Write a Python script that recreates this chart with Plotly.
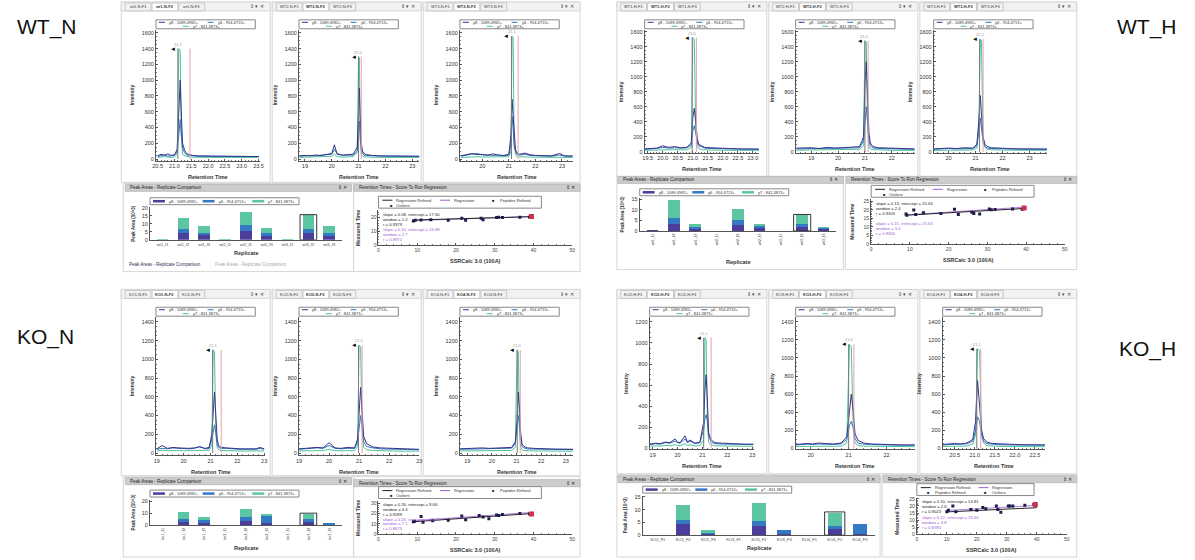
import plotly.graph_objects as go

W, H = 1195, 560
FONT = "Liberation Sans, Arial, sans-serif"

# ---------------- data ----------------
ion_names = ["y8 - 1089.4982+", "y6 - 954.4713+", "y7 - 841.3873+"]

# chromatograms (retention time, intensity of y8 / y6 / y7)
wtn1_t = [20.5, 20.6, 20.7, 20.8, 20.9, 21.0, 21.08, 21.13, 21.17, 21.2, 21.24, 21.3, 21.36, 21.45, 21.55, 21.7, 21.9, 22.1, 22.4, 22.7, 23.0, 23.3, 23.5]
wtn1_y8 = [40, 60, 45, 65, 45, 55, 120, 700, 1000, 620, 200, 110, 70, 55, 45, 40, 38, 35, 35, 33, 33, 32, 32]
wtn1_y6 = [30, 40, 55, 35, 40, 45, 90, 350, 500, 330, 140, 80, 50, 45, 40, 35, 33, 32, 30, 30, 30, 30, 30]
wtn1_y7 = [20, 25, 30, 25, 20, 25, 60, 1400, 1380, 300, 60, 40, 30, 25, 22, 20, 20, 20, 20, 20, 20, 20, 20]

wtn2_t = [18.8, 19.0, 19.2, 19.4, 19.6, 19.8, 20.0, 20.1, 20.2, 20.4, 20.6, 20.8, 20.95, 21.0, 21.03, 21.06, 21.1, 21.15, 21.2, 21.3, 21.5, 21.8, 22.1, 22.5, 22.9, 23.3]
wtn2_y8 = [40, 45, 40, 50, 45, 60, 70, 180, 60, 50, 55, 60, 150, 600, 900, 550, 200, 100, 70, 55, 45, 40, 40, 38, 35, 35]
wtn2_y6 = [35, 40, 45, 40, 50, 55, 60, 120, 70, 45, 50, 50, 100, 350, 480, 300, 120, 70, 50, 45, 40, 38, 35, 35, 33, 33]
wtn2_y7 = [20, 22, 25, 22, 25, 30, 35, 60, 30, 25, 28, 30, 80, 1300, 1280, 250, 60, 35, 28, 25, 22, 20, 20, 20, 20, 20]

wtn3_t = [19.2, 19.4, 19.6, 19.8, 20.0, 20.2, 20.4, 20.6, 20.8, 21.0, 21.08, 21.12, 21.16, 21.2, 21.25, 21.3, 21.4, 21.6, 21.8, 22.0, 22.3, 22.6, 22.9, 23.1, 23.4]
wtn3_y8 = [40, 60, 70, 55, 60, 45, 65, 50, 45, 60, 300, 760, 550, 250, 120, 80, 60, 75, 55, 45, 40, 40, 70, 40, 38]
wtn3_y6 = [35, 50, 60, 70, 50, 55, 45, 50, 40, 50, 200, 540, 400, 150, 90, 60, 50, 60, 45, 40, 38, 35, 50, 35, 35]
wtn3_y7 = [20, 25, 30, 28, 25, 25, 30, 25, 22, 30, 100, 1560, 1540, 200, 60, 35, 28, 30, 25, 22, 20, 20, 25, 20, 20]

wth1_t = [19.4, 19.6, 19.8, 20.0, 20.2, 20.4, 20.6, 20.8, 20.95, 21.0, 21.05, 21.1, 21.15, 21.2, 21.3, 21.4, 21.6, 21.9, 22.2, 22.5, 22.8, 23.0, 23.2]
wth1_y8 = [40, 45, 50, 80, 60, 70, 55, 60, 120, 450, 580, 400, 180, 100, 80, 60, 55, 45, 45, 40, 40, 38, 38]
wth1_y6 = [35, 40, 45, 60, 50, 55, 50, 55, 90, 280, 350, 250, 120, 80, 60, 50, 45, 40, 40, 38, 35, 35, 35]
wth1_y7 = [20, 22, 25, 35, 28, 30, 26, 28, 60, 1520, 1500, 300, 70, 40, 30, 26, 24, 22, 20, 20, 20, 20, 20]

wth2_t = [18.45, 18.7, 19.0, 19.3, 19.6, 19.9, 20.2, 20.5, 20.8, 20.95, 21.0, 21.05, 21.1, 21.15, 21.2, 21.3, 21.5, 21.8, 22.1, 22.4, 22.65, 22.85]
wth2_y8 = [50, 52, 55, 45, 60, 50, 55, 60, 70, 200, 900, 1200, 700, 250, 120, 70, 55, 50, 45, 45, 40, 40]
wth2_y6 = [40, 42, 45, 40, 50, 45, 50, 50, 55, 150, 450, 600, 380, 150, 80, 55, 45, 40, 40, 38, 35, 35]
wth2_y7 = [22, 24, 25, 22, 28, 25, 28, 30, 35, 80, 1480, 1460, 300, 70, 40, 30, 25, 22, 20, 20, 20, 20]

wth3_t = [19.45, 19.7, 20.0, 20.3, 20.6, 20.9, 21.05, 21.12, 21.18, 21.22, 21.28, 21.35, 21.45, 21.6, 21.9, 22.2, 22.5, 22.8, 23.1, 23.4, 23.65]
wth3_y8 = [40, 45, 50, 45, 55, 50, 100, 400, 750, 500, 200, 100, 70, 55, 45, 45, 40, 40, 40, 38, 38]
wth3_y6 = [35, 40, 45, 40, 45, 45, 80, 250, 450, 320, 130, 70, 50, 45, 40, 40, 38, 35, 35, 35, 35]
wth3_y7 = [20, 22, 25, 22, 25, 25, 50, 300, 1500, 1480, 200, 60, 35, 28, 24, 22, 20, 20, 20, 20, 20]

kon1_t = [19.0, 19.2, 19.4, 19.6, 19.8, 20.0, 20.2, 20.4, 20.6, 20.8, 20.95, 21.05, 21.1, 21.15, 21.2, 21.25, 21.3, 21.4, 21.6, 21.8, 22.1, 22.4, 22.7, 22.85, 23.0]
kon1_y8 = [45, 80, 50, 60, 55, 50, 50, 55, 65, 50, 60, 200, 450, 650, 400, 150, 80, 60, 55, 50, 45, 45, 45, 60, 45]
kon1_y6 = [40, 50, 45, 55, 50, 45, 45, 50, 70, 45, 50, 150, 250, 300, 220, 100, 60, 50, 50, 45, 40, 40, 40, 50, 40]
kon1_y7 = [22, 30, 25, 28, 26, 24, 24, 26, 32, 24, 30, 80, 1100, 1080, 200, 60, 35, 28, 25, 24, 22, 22, 22, 30, 22]

kon2_t = [19.0, 19.2, 19.4, 19.6, 19.8, 20.0, 20.2, 20.4, 20.6, 20.85, 20.95, 21.0, 21.05, 21.1, 21.15, 21.25, 21.45, 21.7, 22.0, 22.3, 22.6, 22.8, 23.0]
kon2_y8 = [45, 50, 55, 60, 55, 110, 55, 50, 60, 55, 150, 500, 700, 450, 180, 100, 65, 55, 50, 45, 45, 40, 40]
kon2_y6 = [40, 45, 50, 55, 50, 80, 50, 45, 50, 50, 120, 300, 400, 280, 120, 70, 55, 45, 40, 40, 38, 35, 35]
kon2_y7 = [22, 24, 26, 28, 26, 40, 26, 24, 28, 26, 70, 1150, 1130, 250, 60, 35, 28, 24, 22, 20, 20, 20, 20]

kon3_t = [18.7, 19.0, 19.3, 19.6, 19.9, 20.2, 20.5, 20.8, 20.95, 21.02, 21.07, 21.12, 21.17, 21.22, 21.3, 21.45, 21.7, 22.0, 22.3, 22.6, 22.9, 23.3]
kon3_y8 = [45, 50, 48, 55, 50, 52, 55, 60, 120, 350, 650, 480, 200, 100, 70, 55, 50, 45, 45, 42, 42, 40]
kon3_y6 = [40, 42, 44, 48, 45, 46, 48, 52, 100, 250, 400, 300, 140, 70, 55, 45, 42, 40, 40, 38, 38, 36]
kon3_y7 = [22, 24, 24, 26, 25, 25, 26, 28, 60, 1100, 1080, 200, 60, 35, 28, 24, 22, 22, 20, 20, 20, 20]

koh1_t = [18.9, 19.1, 19.3, 19.5, 19.7, 19.9, 20.0, 20.1, 20.3, 20.4, 20.5, 20.7, 20.9, 21.05, 21.1, 21.15, 21.2, 21.25, 21.35, 21.5, 21.8, 22.1, 22.4, 22.7, 23.05]
koh1_y8 = [40, 50, 45, 60, 55, 90, 60, 55, 120, 60, 80, 50, 60, 250, 550, 700, 450, 150, 80, 55, 50, 45, 45, 40, 40]
koh1_y6 = [35, 45, 40, 55, 50, 70, 55, 50, 90, 55, 70, 45, 55, 180, 280, 320, 260, 120, 60, 45, 42, 40, 40, 38, 38]
koh1_y7 = [20, 25, 22, 28, 26, 35, 28, 26, 45, 28, 35, 24, 28, 80, 1050, 1030, 250, 60, 32, 25, 24, 22, 22, 20, 20]

koh2_t = [19.6, 19.75, 19.9, 20.05, 20.2, 20.4, 20.6, 20.8, 20.95, 21.02, 21.07, 21.12, 21.17, 21.25, 21.4, 21.6, 21.8, 22.0, 22.2, 22.4, 22.6, 22.75]
koh2_y8 = [45, 50, 55, 50, 60, 55, 50, 60, 130, 400, 600, 420, 160, 90, 60, 50, 45, 45, 42, 40, 40, 40]
koh2_y6 = [40, 45, 48, 45, 50, 48, 45, 52, 100, 250, 300, 230, 110, 60, 48, 44, 40, 40, 38, 36, 36, 36]
koh2_y7 = [22, 24, 26, 24, 28, 26, 24, 28, 60, 1150, 1130, 220, 60, 32, 26, 24, 22, 22, 20, 20, 20, 20]

koh3_t = [20.2, 20.35, 20.5, 20.65, 20.8, 20.95, 21.02, 21.07, 21.12, 21.17, 21.22, 21.3, 21.45, 21.6, 21.8, 22.0, 22.2, 22.4, 22.6, 22.75]
koh3_y8 = [45, 50, 55, 50, 60, 100, 300, 750, 500, 200, 110, 70, 55, 50, 45, 45, 42, 40, 40, 40]
koh3_y6 = [40, 44, 48, 45, 52, 80, 200, 350, 300, 140, 80, 55, 45, 42, 40, 40, 38, 36, 36, 36]
koh3_y7 = [22, 24, 26, 24, 28, 50, 150, 1100, 1080, 200, 60, 32, 26, 24, 22, 22, 20, 20, 20, 20]

# peak integration boundaries (start, end) per chromatogram
wtn_bounds = [(21.1, 21.46), (21.0, 21.1), (21.1, 21.35)]
wth_bounds = [(20.98, 21.12), (21.0, 21.12), (21.15, 21.28)]
kon_bounds = [(21.08, 21.4), (20.98, 21.1), (21.03, 21.15)]
koh_bounds = [(21.05, 21.35), (21.0, 21.14), (21.05, 21.15)]

# replicate peak areas (10^3), stacked y8 / y6 / y7
wtn_reps = ["wt1_f1", "wt1_f2", "wt1_f3", "wt2_f1", "wt2_f2", "wt2_f3", "wt3_f1", "wt3_f2", "wt3_f3"]
wtn_y8 = [0.1, 4.0, 3.0, 0.1, 5.5, 2.5, 0.1, 4.5, 2.5]
wtn_y6 = [0.1, 2.5, 1.5, 0.1, 4.0, 1.5, 0.1, 2.5, 1.5]
wtn_y7 = [0.1, 7.0, 4.0, 0.1, 8.0, 3.5, 0.1, 8.5, 4.5]

wth_reps = ["wt1_f1", "wt1_f2", "wt1_f3", "wt2_f1", "wt2_f2", "wt2_f3", "wt3_f1", "wt3_f2", "wt3_f3"]
wth_y8 = [0.3, 3.5, 1.0, 0.0, 3.0, 1.5, 0.1, 2.0, 1.0]
wth_y6 = [0.1, 2.5, 0.8, 0.0, 2.0, 0.8, 0.0, 1.3, 0.6]
wth_y7 = [0.1, 8.5, 1.7, 0.0, 5.5, 1.2, 0.0, 4.2, 0.4]

kon_reps = ["ko1_f1", "ko1_f2", "ko1_f3", "ko2_f1", "ko2_f2", "ko2_f3", "ko3_f1", "ko3_f2", "ko3_f3"]
kon_y8 = [0.1, 3.0, 2.0, 0.1, 3.5, 1.5, 0.1, 3.0, 0.5]
kon_y6 = [0.1, 2.0, 2.0, 0.1, 3.0, 6.5, 0.1, 2.0, 1.8]
kon_y7 = [0.0, 6.5, 2.5, 0.0, 7.0, 1.3, 0.1, 4.8, 0.0]

koh_reps = ["KO2_F1", "KO2_F2", "KO2_F3", "KO3_F1", "KO3_F2", "KO3_F3", "KO4_F1", "KO4_F2", "KO4_F3"]
koh_y8 = [0.1, 4.5, 0.6, 0.05, 3.5, 0.5, 0.1, 2.5, 0.3]
koh_y6 = [0.05, 1.5, 0.4, 0.03, 2.0, 1.5, 0.05, 1.2, 4.2]
koh_y7 = [0.05, 6.0, 1.0, 0.02, 7.0, 0.2, 0.05, 5.1, 0.0]

selected_rep = [7, 7, 7, 7]

# retention time regressions (SSRCalc 3.0 vs measured time)
wtn_ssr = [9, 9.5, 11, 13.5, 18, 21.5, 22.5, 26.5, 27, 30.5, 31, 32, 36.5, 39]
wtn_rt = [17.5, 18, 18.2, 18.5, 18, 19.5, 18, 19.5, 18.5, 20, 20.2, 20, 20.3, 20.5]
wth_ssr = [9, 9.2, 11, 11.5, 13.5, 18, 21.5, 22.5, 26, 26.5, 28, 30.5, 31, 32, 36.5, 39]
wth_rt = [17.5, 16.8, 19.8, 17.2, 18.2, 17.8, 20.3, 17.2, 18.5, 17.8, 17.5, 20.5, 20, 20.2, 20.5, 20.3]
kon_ssr = [9, 9.3, 11, 11.5, 14, 18, 21.5, 22.5, 26, 27, 28.5, 30.5, 31, 32, 36.5, 39]
kon_rt = [12, 12.5, 17, 11.5, 13, 13.5, 17.5, 14, 18, 16.5, 15, 18.5, 18, 19, 20, 19.5]
koh_ssr = [10, 10.5, 12, 13, 18, 20, 22, 23, 26.5, 27, 28, 30.5, 31, 32, 36, 39]
koh_rt = [16, 17, 20, 16, 17.5, 17, 19, 18, 20, 17.5, 15.5, 20, 20, 20, 20.5, 21]
target_ssr = [39.5, 39.5, 39.5, 39.5]
target_rt = [20.8, 21.0, 19.5, 21.0]

reg_refined = [(0.08, 17.50, 1.2, 0.9379), (0.13, 15.63, 2.4, 0.9105), (0.26, 9.66, 4.4, 0.9189), (0.10, 14.81, 2.6, 0.9023)]
reg_all = [(0.10, 16.88, 2.7, 0.8971), (0.15, 15.63, 3.0, 0.8346), (0.26, 10.73, 7.1, 0.8675), (0.12, 15.64, 3.8, 0.8780)]

# ---------------- style ----------------
ION_COL = ["#35358a", "#3a73bd", "#4cc39e"]
BAR_COL = ["#4a3d9c", "#3479c1", "#5cc6a4"]
PURPLE = "#a05cd6"

fig = go.Figure()
layout = dict(width=W, height=H, margin=dict(l=0, r=0, t=0, b=0),
              paper_bgcolor="white", plot_bgcolor="rgba(0,0,0,0)",
              showlegend=False, font=dict(family=FONT, size=6, color="#333"))
shapes, annos = [], []
count = [0]


def px(x):
    return x / W


def py(y):
    return 1 - y / H


def rect(x0, y0, x1, y1, fill="white", line="#cfcfcf", lw=1, layer="below"):
    shapes.append(dict(type="rect", xref="paper", yref="paper", x0=px(x0), x1=px(x1),
                       y0=py(y1), y1=py(y0), fillcolor=fill,
                       line=dict(color=line, width=lw), layer=layer))


def hline(x0, x1, y, color, width=1, dash="solid"):
    shapes.append(dict(type="line", xref="paper", yref="paper", x0=px(x0), x1=px(x1),
                       y0=py(y), y1=py(y), line=dict(color=color, width=width, dash=dash)))


def text(x, y, s, size=5, color="#333", xa="left", ya="middle", angle=0, **kw):
    annos.append(dict(x=px(x), y=py(y), xref="paper", yref="paper", text=s, showarrow=False,
                      xanchor=xa, yanchor=ya, textangle=angle,
                      font=dict(size=size, color=color, family=FONT), **kw))


def axes(x0, x1, top, bot, xr, yr, xdt, ydt, xfmt="", minor=True, xticktext=None, xangle=0):
    count[0] += 1
    s = "" if count[0] == 1 else str(count[0])
    base = dict(showline=True, linecolor="#555", linewidth=1, ticks="inside", ticklen=2,
                tickcolor="#555", tickfont=dict(size=5.5, color="#333", family=FONT),
                showgrid=False, zeroline=False, fixedrange=True)
    xa = dict(base, domain=[px(x0), px(x1)], range=xr, anchor="y" + s)
    if xticktext is None:
        xa.update(dtick=xdt, tick0=0, tickformat=xfmt)
    else:
        xa.update(tickmode="array", tickvals=list(range(len(xticktext))), ticktext=xticktext,
                  tickangle=xangle, ticks="")
    ya = dict(base, domain=[py(bot), py(top)], range=yr, anchor="x" + s, dtick=ydt, tick0=0)
    if minor:
        xa["minor"] = dict(ticks="inside", ticklen=1, tickcolor="#777", showgrid=False)
        ya["minor"] = dict(ticks="inside", ticklen=1, tickcolor="#777", showgrid=False)
    layout["xaxis" + s] = xa
    layout["yaxis" + s] = ya
    return "x" + s, "y" + s


def chrom(frame, plot, xr, yr, xdt, xfmt, ydt, tabs, data, bounds, active=0):
    fx0, fx1, fy0, fy1 = frame
    x0, x1, top, bot = plot
    rect(fx0, fy0, fx1, fy1, fill="white", line="#d6d6d6")
    rect(fx0, fy0, fx1, fy0 + 9, fill="#f2f2f2", line="#d6d6d6")
    tx = fx0 + 4
    for i, tb in enumerate(tabs):
        w = 26
        rect(tx, fy0 + 1, tx + w, fy0 + 9, fill="white" if i == active else "#f2f2f2", line="#c8c8c8")
        text(tx + w / 2, fy0 + 5, ("<b>%s</b>" % tb) if i == active else tb, size=4, color="#333", xa="center")
        tx += w + 1
    text(fx1 - 4, fy0 + 5, "⇕ ▾ ✕", size=4.5, color="#444", xa="right")
    xa, ya = axes(x0, x1, top, bot, xr, yr, xdt, ydt, xfmt)
    t, y8, y6, y7 = data
    for yy, c in ((y7, ION_COL[2]), (y6, ION_COL[1]), (y8, ION_COL[0])):
        fig.add_trace(go.Scatter(x=t, y=yy, mode="lines", line=dict(color=c, width=1),
                                 xaxis=xa, yaxis=ya, hoverinfo="skip"))
    peak_top = max(y7)
    b0, b1 = bounds
    for b, c in ((b0, "#7a7a7a"), (b1, "#e9a0a8")):
        shapes.append(dict(type="line", xref=xa, yref=ya, x0=b, x1=b, y0=0, y1=peak_top,
                           line=dict(color=c, width=1)))
    annos.append(dict(x=b0, y=peak_top, xref=xa, yref=ya, text="◄", showarrow=False,
                      xanchor="right", yanchor="middle", font=dict(size=6, color="black")))
    t_pk = t[y7.index(peak_top)]
    annos.append(dict(x=t_pk, y=peak_top, xref=xa, yref=ya, text="%.1f" % t_pk, showarrow=False,
                      xanchor="center", yanchor="bottom", font=dict(size=4, color="#999")))
    # legend
    lx0, lx1 = x0, x0 + 100
    rect(lx0, top - 10, lx1, top - 1, fill="white", line="#888", layer="above")
    hline(lx0 + 3, lx0 + 9, top - 7.5, ION_COL[0])
    text(lx0 + 11, top - 7.5, ion_names[0], size=4)
    hline(lx0 + 52, lx0 + 58, top - 7.5, ION_COL[1])
    text(lx0 + 60, top - 7.5, ion_names[1], size=4)
    hline(lx0 + 27, lx0 + 33, top - 3.5, ION_COL[2])
    text(lx0 + 35, top - 3.5, ion_names[2], size=4)
    # axis titles
    text(x0 - 24, (top + bot) / 2, "<b>Intensity</b>", size=5, xa="center", angle=-90)
    text((x0 + x1) / 2, bot + 17, "<b>Retention Time</b>", size=5.5, xa="center")


def bars(header, plot, yr, ydt, reps, y8, y6, y7, sel, angle=0, title_y=None):
    hx0, hx1, hy0, hy1 = header
    x0, x1, top, bot = plot
    rect(hx0, hy0, hx1, hy1, fill="#cdcdcd", line="#bdbdbd")
    text(hx0 + 3, (hy0 + hy1) / 2, "Peak Areas - Replicate Comparison", size=4.5, color="#222")
    text(hx1 - 3, (hy0 + hy1) / 2, "⇕ ✕", size=4.5, color="#222", xa="right")
    xa, ya = axes(x0, x1, top, bot, [-0.6, len(reps) - 0.4], yr, None, ydt, minor=False,
                  xticktext=reps, xangle=angle)
    layout["xaxis" + xa[1:]]["tickfont"] = dict(size=4, color="#444", family=FONT)
    for vals, c in ((y8, BAR_COL[0]), (y6, BAR_COL[1]), (y7, BAR_COL[2])):
        fig.add_trace(go.Bar(x=list(range(len(reps))), y=vals, marker=dict(color=c, line=dict(width=0)),
                             width=0.55, xaxis=xa, yaxis=ya, hoverinfo="skip"))
    tot = y8[sel] + y6[sel] + y7[sel]
    shapes.append(dict(type="rect", xref=xa, yref=ya, x0=sel - 0.4, x1=sel + 0.4, y0=0,
                       y1=tot + 0.3, line=dict(color="#333", width=1)))
    # legend
    ly0 = top - 6
    rect(x0, ly0 - 3.5, x0 + 150, ly0 + 3.5, fill="white", line="#888", layer="above")
    for i, nm in enumerate(ion_names):
        lx = x0 + 3 + i * 50
        hline(lx, lx + 12, ly0, BAR_COL[i], width=2.5)
        text(lx + 14, ly0, nm, size=4)
    text(x0 - 17, (top + bot) / 2, "<b>Peak Area (10^3)</b>", size=4.5, xa="center", angle=-90)
    text((x0 + x1) / 2, title_y, "<b>Replicate</b>", size=5.5, xa="center")


def regression(header, plot, yr, ydt, ssr, rt, tgt, ref, allr, two_rows=False):
    hx0, hx1, hy0, hy1 = header
    x0, x1, top, bot = plot
    rect(hx0, hy0, hx1, hy1, fill="#cdcdcd", line="#bdbdbd")
    text(hx0 + 3, (hy0 + hy1) / 2, "Retention Times - Score To Run Regression", size=4.5, color="#222")
    text(hx1 - 3, (hy0 + hy1) / 2, "⇕ ✕", size=4.5, color="#222", xa="right")
    xa, ya = axes(x0, x1, top, bot, [0, 50], yr, 10, ydt, minor=True)
    layout["xaxis" + xa[1:]]["tickfont"] = dict(size=5, color="#444", family=FONT)
    layout["yaxis" + ya[1:]]["tickfont"] = dict(size=5, color="#444", family=FONT)
    xs = [min(ssr), max(ssr) + 1]
    fig.add_trace(go.Scatter(x=xs, y=[allr[1] + allr[0] * v for v in xs], mode="lines",
                             line=dict(color=PURPLE, width=0.8), xaxis=xa, yaxis=ya, hoverinfo="skip"))
    fig.add_trace(go.Scatter(x=xs, y=[ref[1] + ref[0] * v for v in xs], mode="lines",
                             line=dict(color="#222", width=1), xaxis=xa, yaxis=ya, hoverinfo="skip"))
    fig.add_trace(go.Scatter(x=ssr, y=rt, mode="markers",
                             marker=dict(color="#1c1c4a", size=3, symbol="square"),
                             xaxis=xa, yaxis=ya, hoverinfo="skip"))
    fig.add_trace(go.Scatter(x=[tgt[0]], y=[tgt[1]], mode="markers",
                             marker=dict(color="#d0304a", size=5, symbol="square"),
                             xaxis=xa, yaxis=ya, hoverinfo="skip"))
    # statistics
    tx = x0 + 3
    text(tx, top + 4, "slope = %.2f, intercept = %.2f" % (ref[0], ref[1]), size=4.2, color="#222")
    text(tx, top + 9, "window = %.1f" % ref[2], size=4.2, color="#222")
    text(tx, top + 14, "r = %.4f" % ref[3], size=4.2, color="#222")
    ph = (bot - top)
    text(tx, top + ph * 0.55, "slope = %.2f, intercept = %.2f" % (allr[0], allr[1]), size=4.2, color=PURPLE)
    text(tx, top + ph * 0.55 + 5, "window = %.1f" % allr[2], size=4.2, color=PURPLE)
    text(tx, top + ph * 0.55 + 10, "r = %.4f" % allr[3], size=4.2, color=PURPLE)
    # legend
    lw_ = 164 if not two_rows else 118
    ly = top - 12
    rect(x0, ly - 2, x0 + lw_, ly + 10, fill="white", line="#888", layer="above")
    if not two_rows:
        hline(x0 + 4, x0 + 14, ly + 2, "#222")
        text(x0 + 16, ly + 2, "Regression Refined", size=4)
        hline(x0 + 62, x0 + 72, ly + 2, PURPLE)
        text(x0 + 74, ly + 2, "Regression", size=4)
        text(x0 + 112, ly + 2, "■", size=4, color="#1c1c4a")
        text(x0 + 120, ly + 2, "Peptides Refined", size=4)
        text(x0 + 10, ly + 7, "■", size=4, color="#1c1c4a")
        text(x0 + 16, ly + 7, "Outliers", size=4)
    else:
        hline(x0 + 4, x0 + 14, ly + 2, "#222")
        text(x0 + 16, ly + 2, "Regression Refined", size=4)
        hline(x0 + 62, x0 + 72, ly + 2, PURPLE)
        text(x0 + 74, ly + 2, "Regression", size=4)
        text(x0 + 8, ly + 7, "■", size=4, color="#1c1c4a")
        text(x0 + 16, ly + 7, "Peptides Refined", size=4)
        text(x0 + 66, ly + 7, "■", size=4, color="#1c1c4a")
        text(x0 + 74, ly + 7, "Outliers", size=4)
    text(x0 - 20, (top + bot) / 2, "<b>Measured Time</b>", size=5, xa="center", angle=-90)
    text((x0 + x1) / 2, bot + 16, "<b>SSRCalc 3.0 (100A)</b>", size=5.5, xa="center")


# ---------------- WT_N ----------------
chrom((118, 268, 0, 182), (153, 258, 28, 160), [20.45, 23.55], [-20, 1640], 0.5, ".1f", 200,
      ["wt1-N-F1", "wt1-N-F2", "wt1-N-F3"], (wtn1_t, wtn1_y8, wtn1_y6, wtn1_y7), wtn_bounds[0], 1)
chrom((270, 420, 0, 182), (297, 418, 28, 160), [18.78, 23.26], [-20, 1640], 1, "", 200,
      ["WT2-N-F1", "WT2-N-F2", "WT2-N-F3"], (wtn2_t, wtn2_y8, wtn2_y6, wtn2_y7), wtn_bounds[1], 1)
chrom((422, 580, 0, 182), (459, 573, 28, 160), [19.16, 23.42], [-20, 1640], 1, "", 200,
      ["WT3-N-F1", "WT3-N-F2", "WT3-N-F3"], (wtn3_t, wtn3_y8, wtn3_y6, wtn3_y7), wtn_bounds[2], 1)
rect(120, 183, 352, 272, fill="white", line="#d6d6d6")
rect(352, 183, 580, 272, fill="white", line="#d6d6d6")
bars((122, 350, 184, 191), (147, 340, 207, 240), [0, 20.5], 5, wtn_reps, wtn_y8, wtn_y6, wtn_y7,
     selected_rep[0], angle=0, title_y=253)
regression((352, 580, 184, 191), (377, 572, 210, 245), [0, 25.5], 10, wtn_ssr, wtn_rt,
           (target_ssr[0], target_rt[0]), reg_refined[0], reg_all[0])
text(124, 265, "Peak Areas - Replicate Comparison", size=4.5, color="#335")
text(210, 265, "Peak Areas - Replicate Comparison", size=4.5, color="#aaa")

# ---------------- WT_H ----------------
chrom((617, 768, 0, 176), (645, 760, 28, 152), [19.4, 23.2], [-10, 1626], 0.5, ".1f", 200,
      ["WT1-H-F1", "WT1-H-F2", "WT1-H-F3"], (wth1_t, wth1_y8, wth1_y6, wth1_y7), wth_bounds[0], 1)
chrom((770, 920, 0, 176), (797, 917, 28, 152), [18.42, 22.86], [-10, 1626], 1, "", 200,
      ["WT2-H-F1", "WT2-H-F2", "WT2-H-F3"], (wth2_t, wth2_y8, wth2_y6, wth2_y7), wth_bounds[1], 1)
chrom((922, 1080, 0, 176), (936, 1050, 28, 152), [19.45, 23.65], [-10, 1626], 1, "", 200,
      ["WT3-H-F1", "WT3-H-F2", "WT3-H-F3"], (wth3_t, wth3_y8, wth3_y6, wth3_y7), wth_bounds[2], 1)
rect(617, 176, 845, 270, fill="white", line="#d6d6d6")
rect(847, 176, 1080, 270, fill="white", line="#d6d6d6")
bars((618, 845, 176, 183), (640, 838, 198, 231), [0, 15.5], 5, wth_reps, wth_y8, wth_y6, wth_y7,
     selected_rep[1], angle=-90, title_y=262)
regression((848, 1080, 176, 183), (873, 1068, 199, 244), [0, 26.2], 5, wth_ssr, wth_rt,
           (target_ssr[1], target_rt[1]), reg_refined[1], reg_all[1])

# ---------------- KO_N ----------------
chrom((118, 268, 290, 478), (153, 263, 318, 457), [18.97, 23.04], [-20, 1450], 1, "", 200,
      ["KO1-N-F1", "KO1-N-F2", "KO1-N-F3"], (kon1_t, kon1_y8, kon1_y6, kon1_y7), kon_bounds[0], 1)
chrom((270, 420, 290, 478), (297, 418, 318, 457), [19.0, 23.0], [-20, 1450], 1, "", 200,
      ["KO2-N-F1", "KO2-N-F2", "KO2-N-F3"], (kon2_t, kon2_y8, kon2_y6, kon2_y7), kon_bounds[1], 1)
chrom((422, 580, 290, 478), (459, 573, 318, 457), [18.7, 23.3], [-20, 1450], 1, "", 200,
      ["KO4-N-F1", "KO4-N-F2", "KO4-N-F3"], (kon3_t, kon3_y8, kon3_y6, kon3_y7), kon_bounds[2], 1)
rect(120, 479, 352, 560, fill="white", line="#d6d6d6")
rect(352, 479, 580, 560, fill="white", line="#d6d6d6")
bars((122, 350, 480, 487), (147, 340, 502, 528), [0, 21.5], 10, kon_reps, kon_y8, kon_y6, kon_y7,
     selected_rep[2], angle=-90, title_y=551)
regression((352, 580, 482, 489), (377, 572, 503, 537), [0, 32.5], 10, kon_ssr, kon_rt,
           (target_ssr[2], target_rt[2]), reg_refined[2], reg_all[2])

# ---------------- KO_H ----------------
chrom((617, 768, 290, 476), (650, 755, 318, 451), [18.88, 23.07], [-5, 1244], 1, "", 200,
      ["KO2-H-F1", "KO2-H-F2", "KO2-H-F3"], (koh1_t, koh1_y8, koh1_y6, koh1_y7), koh_bounds[0], 1)
chrom((770, 920, 290, 476), (797, 917, 318, 451), [19.6, 22.75], [-5, 1450], 1, "", 200,
      ["KO3-H-F1", "KO3-H-F2", "KO3-H-F3"], (koh2_t, koh2_y8, koh2_y6, koh2_y7), koh_bounds[1], 1)
chrom((922, 1080, 290, 476), (945, 1048, 318, 451), [20.2, 22.75], [-5, 1450], 0.5, ".1f", 200,
      ["KO4-H-F1", "KO4-H-F2", "KO4-H-F3"], (koh3_t, koh3_y8, koh3_y6, koh3_y7), koh_bounds[2], 1)
rect(617, 477, 882, 560, fill="white", line="#d6d6d6")
rect(884, 477, 1080, 560, fill="white", line="#d6d6d6")
bars((618, 882, 478, 485), (643, 877, 498, 538), [0, 15.5], 5, koh_reps, koh_y8, koh_y6, koh_y7,
     selected_rep[3], angle=0, title_y=551)
regression((885, 1080, 478, 485), (919, 1070, 500, 537), [0, 26], 5, koh_ssr, koh_rt,
           (target_ssr[3], target_rt[3]), reg_refined[3], reg_all[3], two_rows=True)

# ---------------- group labels ----------------
text(11, 25, "WT_N", size=21, color="#111")
text(1118, 25, "WT_H", size=21, color="#111")
text(11, 338, "KO_N", size=21, color="#111")
text(1120, 350, "KO_H", size=21, color="#111")

layout["shapes"] = shapes
layout["annotations"] = annos
layout["barmode"] = "stack"
fig.update_layout(**layout)
fig.write_html("out.html", config={"staticPlot": True},
               post_script="document.body.style.margin='0';document.body.style.overflow='hidden';")
